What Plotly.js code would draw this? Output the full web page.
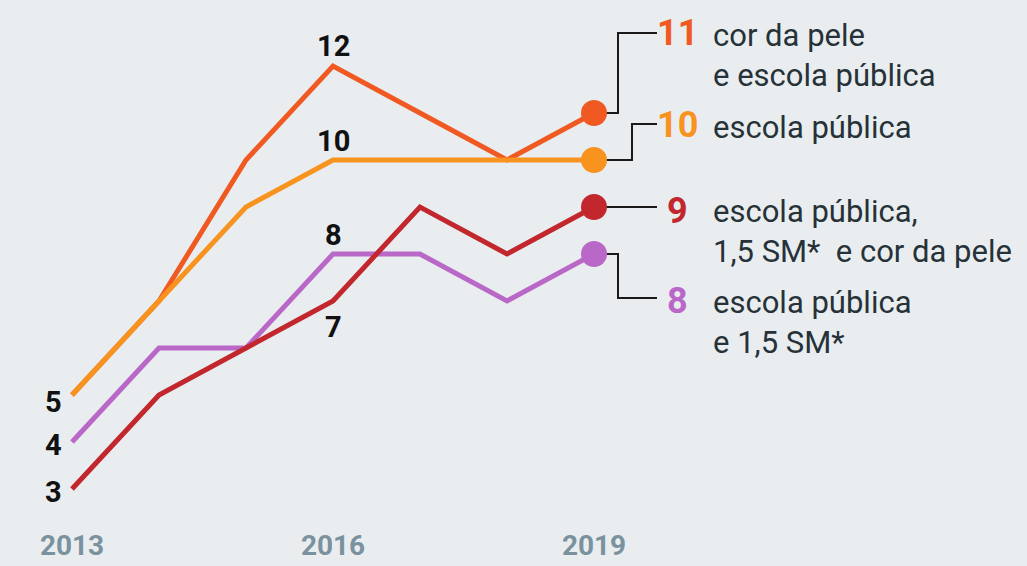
<!DOCTYPE html>
<html>
<head>
<meta charset="utf-8">
<script src="https://cdn.plot.ly/plotly-3.0.1.min.js"></script>
<style>
html,body{margin:0;padding:0;background:#E9EDF0;}
#chart{width:1027px;height:566px;}
</style>
</head>
<body>
<div id="chart"></div>
<script>
// ---- data ----
const years = [2013, 2014, 2015, 2016, 2017, 2018, 2019];
const tickYears = [2013, 2016, 2019];

const corEscola = [5, 7, 10, 12, 11, 10, 11];        // cor da pele e escola pública
const escola = [5, 7, 9, 10, 10, 10, 10];            // escola pública
const escolaSM = [4, 6, 6, 8, 8, 7, 8];               // escola pública e 1,5 SM*
const escolaSMCor = [3, 5, 6, 7, 9, 8, 9];            // escola pública, 1,5 SM* e cor da pele

const seriesNames = ['cor da pele<br>e escola pública', 'escola pública', 'escola pública<br>e 1,5 SM*', 'escola pública,<br>1,5 SM*  e cor da pele'];

// ---- styling ----
const C_OR = '#F05A22', C_O = '#F7931E', C_P = '#BA68C8', C_R = '#C1272D';
const series = [
  {y: corEscola, color: C_OR, name: seriesNames[0]},
  {y: escola, color: C_O, name: seriesNames[1]},
  {y: escolaSM, color: C_P, name: seriesNames[2]},
  {y: escolaSMCor, color: C_R, name: seriesNames[3]}
];

// which points get a value label: [seriesIdx, pointIdx, xshift, yshift]
const pointLabels = [
  [0, 3, 0, 20], [1, 3, 0, 19], [2, 3, 0, 19], [3, 3, 0, -26],
  [1, 0, -19, -7], [2, 0, -19, -3], [3, 0, -19, -3]
];

// callouts at the last point: [seriesIdx, path, numShiftY, textShiftY, numX]
const callouts = [
  [0, 'M 0 0 H 24 V 80 H 63', 80, 58, 64],
  [1, 'M 0 0 H 38 V 36 H 63', 35, 33, 64],
  [3, 'M 0 0 H 63', -4, -24, 74],
  [2, 'M 0 0 H 24 V -44 H 63', -47, -68, 74]
];

const last = years.length - 1;
const traces = series.map(s => ({
  x: years, y: s.y, type: 'scatter', mode: 'lines',
  line: {color: s.color, width: 5}, hoverinfo: 'skip', showlegend: false
}));
series.forEach(s => traces.push({
  x: [years[last]], y: [s.y[last]], type: 'scatter', mode: 'markers',
  marker: {color: s.color, size: 26}, hoverinfo: 'skip', showlegend: false
}));

const annotations = [];
pointLabels.forEach(([si, pi, xs, ys]) => {
  annotations.push({
    x: years[pi], y: series[si].y[pi], xref: 'x', yref: 'y',
    text: '<b>' + series[si].y[pi] + '</b>', showarrow: false,
    xshift: xs, yshift: ys, font: {family: 'Roboto', size: 29, color: '#111'}
  });
});
const shapes = [];
callouts.forEach(([si, path, ny, ty, nx]) => {
  const s = series[si];
  const v = s.y[last];
  shapes.push({
    type: 'path', xref: 'x', yref: 'y', xsizemode: 'pixel', ysizemode: 'pixel',
    xanchor: years[last], yanchor: v, path: path,
    line: {color: '#1a1a1a', width: 2}, layer: 'below'
  });
  annotations.push({
    x: years[last], y: v, xref: 'x', yref: 'y', xanchor: 'left', yanchor: 'middle',
    text: '<b>' + v + '</b>', showarrow: false, xshift: nx - 3, yshift: ny,
    font: {family: 'Roboto', size: 36, color: s.color}
  });
  annotations.push({
    x: years[last], y: v, xref: 'x', yref: 'y', xanchor: 'left', yanchor: 'middle', align: 'left',
    text: s.name, showarrow: false, xshift: 117, yshift: ty,
    font: {family: 'Roboto', size: 31, color: '#263238'}
  });
});

const plotBottom = 526;
const layout = {
  width: 1027, height: 566,
  margin: {l: 0, r: 0, t: 0, b: 566 - plotBottom},
  paper_bgcolor: '#E9EDF0', plot_bgcolor: '#E9EDF0',
  xaxis: {
    range: [2013 - 72 / 87, 2013 + 955 / 87],
    tickvals: tickYears, ticktext: tickYears.map(String),
    showgrid: false, zeroline: false, showline: false, ticks: '',
    tickfont: {family: 'Roboto', size: 28, color: '#7A929E', weight: 'bold'},
    fixedrange: true
  },
  yaxis: {
    range: [12 - (plotBottom - 66) / 47, 12 + 66 / 47], showgrid: false, zeroline: false, showline: false,
    showticklabels: false, ticks: '', fixedrange: true
  },
  annotations: annotations, shapes: shapes,
  showlegend: false
};

Plotly.newPlot('chart', traces, layout, {displayModeBar: false, staticPlot: true});
</script>
</body>
</html>
